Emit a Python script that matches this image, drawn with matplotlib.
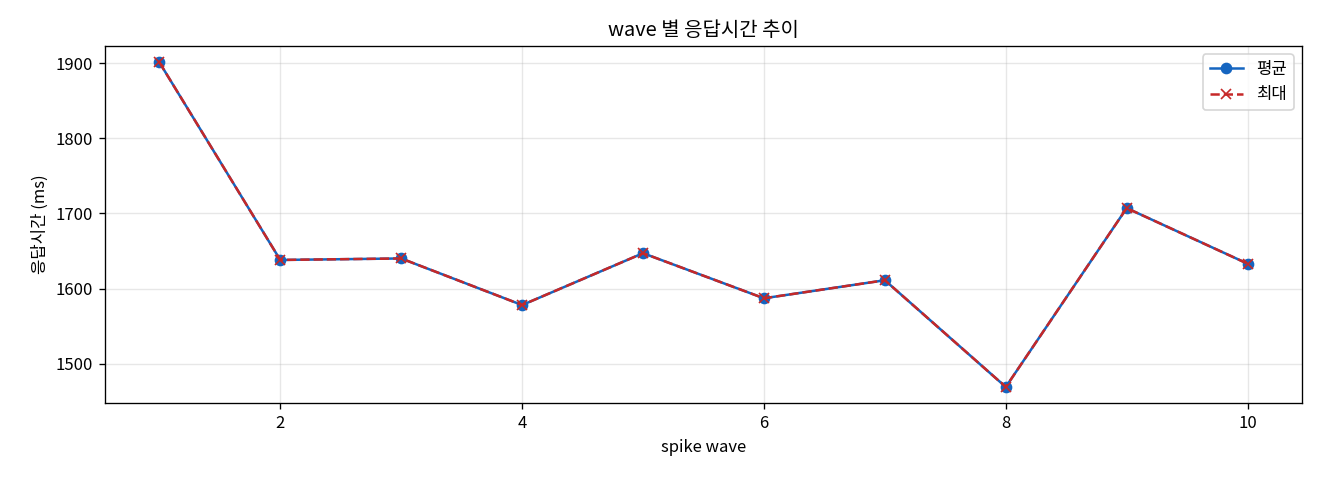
import matplotlib
matplotlib.use("Agg")
import matplotlib.pyplot as plt

plt.rcParams['font.family'] = ['Noto Sans CJK KR', 'DejaVu Sans']
plt.rcParams['axes.unicode_minus'] = False

waves = [1, 2, 3, 4, 5, 6, 7, 8, 9, 10]
avg_ms = [1901, 1638, 1640, 1578, 1647, 1587, 1611, 1469, 1707, 1633]
max_ms = [1901, 1638, 1640, 1578, 1647, 1587, 1611, 1469, 1707, 1633]

fig, ax = plt.subplots(figsize=(11, 4), dpi=120)
ax.plot(waves, avg_ms, marker='o', linestyle='-', color='#1565C0', linewidth=1.5, label='평균')
ax.plot(waves, max_ms, marker='x', linestyle='--', color='#C62828', linewidth=1.5, label='최대')
ax.set_title('wave 별 응답시간 추이')
ax.set_xlabel('spike wave')
ax.set_ylabel('응답시간 (ms)')
ax.grid(True, alpha=0.3)
ax.legend(loc='upper right')
fig.subplots_adjust(left=0.0795, right=0.9864, top=0.904, bottom=0.160)
fig.savefig('out.png')
